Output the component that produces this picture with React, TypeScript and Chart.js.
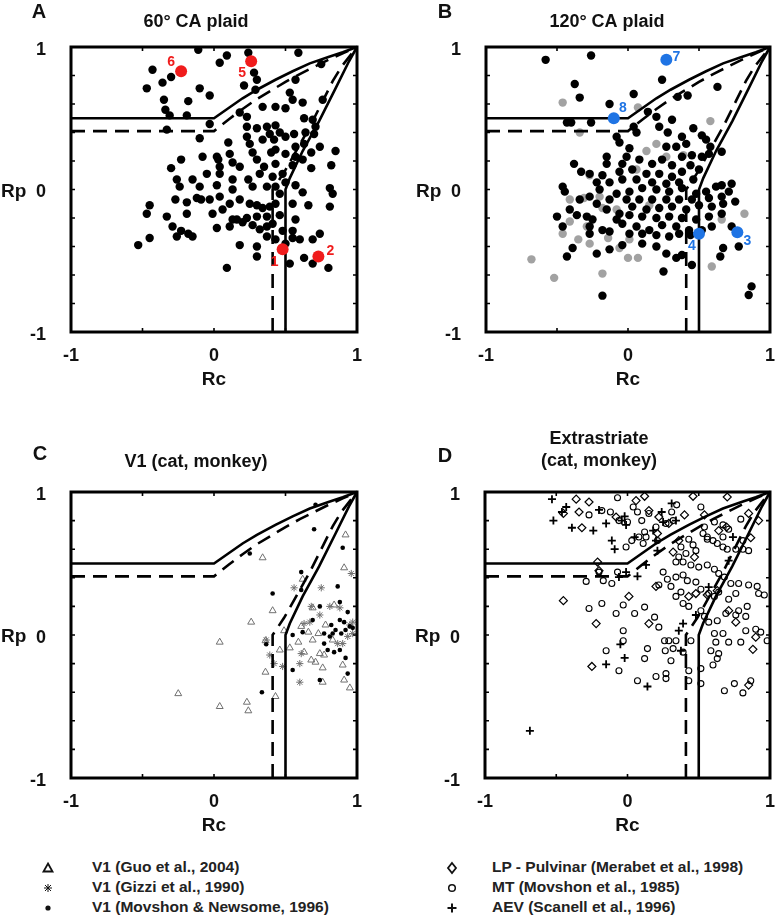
import React, { useEffect, useRef } from 'react';
import { Chart, registerables } from 'chart.js';
Chart.register(...registerables);

type P = [number, number];
const FONT = '"Liberation Sans", Arial, Helvetica, sans-serif';

// ---------- axes ----------
const axisTickValues = [-1, 0, 1];
const xMinorTicks = [-0.5, 0, 0.5];
const yMinorTicks = [-0.8, -0.6, -0.4, -0.2, 0, 0.2, 0.4, 0.6, 0.8];

// ---------- classification boundaries ----------
const upperSolid: P[] = [[-1, 0.5], [0, 0.5], [0.1, 0.57], [0.2, 0.64], [0.3, 0.7], [0.43, 0.77], [0.55, 0.83], [0.67, 0.885], [0.8, 0.93], [0.9, 0.963], [1, 1]];
const upperDashed: P[] = [[-1, 0.41], [0, 0.41], [0.1, 0.49], [0.2, 0.565], [0.3, 0.635], [0.4, 0.695], [0.5, 0.755], [0.6, 0.81], [0.7, 0.86], [0.8, 0.91], [0.9, 0.955], [1, 1]];
const rightSolid: P[] = [[0.5, -1], [0.5, 0], [0.53, 0.08], [0.62, 0.27], [0.735, 0.48], [0.85, 0.71], [0.944, 0.9], [1, 1]];
const rightDashed: P[] = [[0.41, -1], [0.41, 0], [0.49, 0.12], [0.6, 0.315], [0.67, 0.44], [0.76, 0.62], [0.83, 0.76], [0.89, 0.86], [1, 1]];

// ---------- panel A: 60° CA plaid ----------
const aCells: P[] = [[-0.11,0.98],[0.24,0.96],[0.59,0.96],[0.09,0.94],[0.04,0.89],[0.75,0.88],[-0.43,0.84],[-0.30,0.79],[-0.36,0.75],[-0.47,0.71],[0.21,0.73],[0.28,0.82],[0.30,0.77],[0.29,0.70],[0.57,0.77],[0.55,0.63],[-0.10,0.71],[-0.03,0.66],[0.53,0.68],[-0.35,0.63],[-0.18,0.62],[0.62,0.61],[0.76,0.63],[-0.34,0.56],[-0.31,0.52],[-0.19,0.52],[0.18,0.54],[0.23,0.51],[0.34,0.58],[0.43,0.58],[0.50,0.57],[0.63,0.50],[0.69,0.49],[-0.03,0.46],[-0.33,0.42],[-0.10,0.36],[0.23,0.44],[0.30,0.43],[0.37,0.44],[0.43,0.45],[0.39,0.39],[0.46,0.40],[0.50,0.37],[0.56,0.39],[0.64,0.40],[0.70,0.39],[0.71,0.44],[0.10,0.33],[0.23,0.37],[0.25,0.32],[0.34,0.35],[0.42,0.35],[0.43,0.28],[0.57,0.30],[0.63,0.32],[0.68,0.26],[0.62,0.21],[0.74,0.30],[0.85,0.27],[0.02,0.23],[0.11,0.25],[0.27,0.26],[0.40,0.26],[0.50,0.25],[-0.30,0.15],[-0.23,0.21],[-0.08,0.23],[0.03,0.21],[0.04,0.16],[0.13,0.19],[0.18,0.16],[0.30,0.21],[0.35,0.16],[0.43,0.18],[0.55,0.17],[0.68,0.15],[0.82,0.17],[0.57,0.23],[-0.26,0.07],[-0.15,0.07],[-0.05,0.11],[0.04,0.11],[0.13,0.07],[0.24,0.07],[0.32,0.11],[0.41,0.09],[0.48,0.11],[0.50,0.05],[0.57,0.03],[0.62,-0.02],[0.81,0.01],[0.83,-0.03],[-0.24,0.02],[-0.10,0.02],[0.02,0.03],[0.13,0.00],[0.27,0.02],[0.37,0.02],[0.43,0.02],[0.46,-0.03],[-0.27,-0.07],[-0.19,-0.09],[-0.12,-0.06],[-0.09,-0.07],[-0.03,-0.07],[0.04,-0.05],[0.11,-0.10],[0.18,-0.07],[0.25,-0.10],[0.30,-0.11],[0.34,-0.13],[0.39,-0.12],[0.43,-0.10],[0.55,-0.10],[0.66,-0.11],[0.81,-0.12],[-0.45,-0.11],[-0.47,-0.17],[-0.33,-0.19],[-0.19,-0.17],[-0.01,-0.17],[0.06,-0.14],[0.13,-0.21],[0.23,-0.20],[0.30,-0.19],[0.37,-0.19],[0.46,-0.18],[0.57,-0.21],[-0.29,-0.26],[-0.23,-0.29],[-0.18,-0.31],[-0.15,-0.33],[0.02,-0.27],[0.11,-0.26],[0.16,-0.21],[0.20,-0.23],[0.27,-0.25],[0.32,-0.28],[0.37,-0.26],[0.41,-0.24],[0.48,-0.29],[0.55,-0.29],[0.60,-0.35],[0.55,-0.34],[0.50,-0.38],[0.43,-0.35],[0.37,-0.33],[-0.26,-0.33],[-0.45,-0.34],[-0.53,-0.39],[0.18,-0.39],[0.30,-0.40],[0.69,-0.35],[0.74,-0.31],[0.30,-0.47],[0.53,-0.52],[0.63,-0.48],[0.69,-0.52],[0.80,-0.55],[0.09,-0.55]];
const aExamples: P[] = [[0.48, -0.42], [0.73, -0.47], [0.26, 0.90], [-0.23, 0.83]];
const aExampleLabels = ['1', '2', '5', '6'];

// ---------- panel B: 120° CA plaid ----------
const bCells: P[] = [[-0.58,0.91],[-0.26,0.94],[0.24,0.77],[-0.375,0.74],[-0.34,0.645],[-0.13,0.60],[0.04,0.67],[0.35,0.65],[0.42,0.66],[0.63,0.72],[0.14,0.545],[0.20,0.51],[0.31,0.49],[-0.43,0.47],[-0.40,0.47],[-0.26,0.47],[0.04,0.44],[0.22,0.44],[0.46,0.43],[0.06,0.40],[0.28,0.40],[-0.08,0.37],[0.38,0.37],[0.52,0.38],[-0.06,0.33],[0.55,0.35],[0.01,0.29],[0.27,0.30],[0.41,0.32],[0.34,0.30],[0.58,0.30],[0.66,0.265],[-0.15,0.23],[-0.01,0.23],[0.38,0.23],[0.45,0.24],[0.52,0.23],[0.57,0.25],[-0.38,0.18],[-0.33,0.125],[-0.27,0.11],[-0.15,0.18],[-0.04,0.18],[0.08,0.21],[0.17,0.18],[0.24,0.21],[0.31,0.17],[0.44,0.17],[0.50,0.14],[-0.18,0.10],[-0.06,0.125],[0.03,0.14],[0.13,0.11],[0.22,0.11],[0.31,0.09],[0.38,0.125],[0.46,0.07],[-0.22,0.05],[-0.13,0.05],[-0.04,0.07],[0.06,0.07],[0.17,0.05],[0.27,0.04],[0.36,0.05],[-0.46,0.02],[-0.445,-0.015],[-0.34,-0.07],[-0.27,-0.05],[-0.20,0.00],[-0.08,-0.03],[0.01,-0.015],[0.10,0.01],[0.20,0.00],[0.29,-0.015],[0.38,0.01],[0.48,-0.03],[0.55,-0.015],[0.62,0.02],[0.66,0.03],[0.73,0.04],[0.71,-0.015],[0.66,-0.05],[0.57,-0.06],[0.45,-0.07],[0.36,-0.07],[0.27,-0.07],[0.17,-0.07],[0.08,-0.07],[-0.01,-0.07],[-0.13,-0.07],[-0.22,-0.10],[-0.50,-0.19],[-0.41,-0.14],[-0.36,-0.18],[-0.29,-0.19],[-0.25,-0.21],[-0.15,-0.14],[-0.06,-0.17],[0.03,-0.12],[0.13,-0.14],[0.22,-0.13],[0.31,-0.12],[0.41,-0.14],[0.50,-0.11],[0.59,-0.12],[0.67,-0.10],[0.755,-0.085],[0.66,-0.17],[0.57,-0.19],[0.48,-0.21],[0.38,-0.20],[0.29,-0.19],[0.20,-0.20],[0.10,-0.19],[0.01,-0.18],[-0.08,-0.21],[-0.46,-0.26],[-0.27,-0.26],[-0.18,-0.285],[-0.04,-0.24],[0.06,-0.26],[0.15,-0.285],[0.24,-0.25],[0.34,-0.26],[0.43,-0.285],[0.52,-0.285],[0.59,-0.26],[0.73,-0.26],[-0.27,-0.31],[-0.13,-0.295],[0.01,-0.31],[0.10,-0.31],[0.20,-0.32],[0.29,-0.33],[0.36,-0.31],[0.44,-0.32],[0.78,-0.40],[0.67,-0.41],[-0.39,-0.41],[-0.43,-0.47],[-0.22,-0.45],[-0.13,-0.42],[-0.04,-0.39],[0.10,-0.38],[0.20,-0.40],[0.27,-0.45],[0.34,-0.48],[0.38,-0.46],[0.45,-0.53],[0.65,-0.47],[0.25,-0.575],[-0.18,-0.745],[0.87,-0.68],[0.85,-0.74]];
const bGrayCells: P[] = [[-0.46,0.61],[0.07,0.575],[0.58,0.48],[-0.34,0.40],[0.20,0.32],[0.13,0.27],[0.39,0.24],[-0.27,0.10],[0.06,0.14],[0.27,0.23],[-0.41,-0.07],[-0.31,-0.06],[-0.20,-0.05],[-0.18,-0.13],[-0.08,-0.14],[0.15,-0.11],[-0.29,-0.26],[-0.41,-0.225],[-0.46,-0.31],[-0.35,-0.35],[-0.27,-0.38],[-0.14,-0.34],[0.01,-0.35],[-0.06,-0.41],[0.00,-0.48],[0.07,-0.48],[-0.68,-0.49],[-0.52,-0.62],[-0.18,-0.59],[0.59,-0.54],[0.66,-0.21],[0.82,-0.17]];
const bExamples: P[] = [[0.77, -0.30], [0.50, -0.31], [0.27, 0.91], [-0.10, 0.50]];
const bExampleLabels = ['3', '4', '7', '8'];

// ---------- panel C: V1 (cat, monkey) ----------
const cGuo: P[] = [[-0.25,-0.41],[0.04,-0.05],[0.04,-0.50],[0.23,-0.47],[0.24,-0.53],[0.26,0.09],[0.34,0.54],[0.41,0.17],[0.36,-0.04],[0.36,-0.26],[0.43,-0.43],[0.46,-0.105],[0.49,0.03],[0.53,-0.09],[0.62,0.39],[0.61,0.06],[0.59,-0.05],[0.63,-0.12],[0.68,-0.175],[0.71,-0.19],[0.74,-0.13],[0.69,-0.035],[0.73,0.01],[0.77,-0.14],[0.76,-0.23],[0.69,0.19],[0.84,0.21],[0.92,0.70],[0.91,0.47],[0.90,-0.21],[0.91,-0.315],[0.95,-0.37],[0.78,0.07],[0.83,-0.035],[0.66,0.02],[0.76,-0.33]];
const cGizzi: P[] = [[0.56,0.33],[0.75,0.33],[0.365,-0.035],[0.39,-0.14],[0.42,-0.20],[0.60,-0.20],[0.61,-0.13],[0.63,0.08],[0.60,-0.33],[0.81,0.20],[0.88,0.19],[0.96,0.43],[0.865,-0.06],[0.90,-0.06],[0.935,-0.01],[0.95,0.07],[0.97,0.09],[0.68,0.20],[0.74,0.14],[0.67,0.09],[0.97,0.01],[0.48,-0.22]];
const cMovshon: P[] = [[0.71,0.91],[0.70,0.74],[0.25,0.57],[0.90,0.61],[0.61,0.44],[0.41,0.29],[0.61,0.315],[0.865,0.34],[0.74,0.20],[0.88,0.23],[0.935,0.16],[0.95,0.06],[0.92,0.035],[0.97,0.05],[0.82,0.07],[0.83,0.01],[0.85,0.035],[0.91,0.09],[0.88,0.105],[0.69,0.105],[0.55,0.00],[0.62,0.02],[0.77,-0.06],[0.795,-0.105],[0.84,-0.12],[0.88,-0.105],[0.92,-0.16],[0.935,-0.27],[0.55,-0.245],[0.74,-0.315],[0.335,-0.40],[0.365,-0.065],[0.89,0.01],[0.77,0.01],[0.81,-0.01]];

// ---------- panel D: Extrastriate (cat, monkey) ----------
const dMerabet: P[] = [[-0.36,0.95],[-0.27,0.93],[-0.34,0.86],[-0.32,0.75],[-0.45,0.85],[0.06,0.94],[0.12,0.97],[0.15,0.87],[0.22,0.825],[0.40,0.84],[0.46,0.97],[0.70,0.965],[0.85,0.85],[0.92,0.80],[0.865,0.68],[0.695,0.755],[0.64,0.73],[0.54,0.84],[0.29,0.78],[0.36,0.66],[-0.08,0.825],[-0.21,0.51],[-0.20,0.45],[0.21,0.71],[0.32,0.58],[0.47,0.545],[0.48,0.29],[0.56,0.28],[0.71,0.17],[0.76,0.09],[0.90,-0.015],[0.88,-0.10],[0.85,-0.35],[-0.25,-0.22],[-0.22,0.08],[-0.45,0.24],[0.01,0.27],[0.15,0.08],[0.43,0.27],[0.20,0.34],[0.63,0.31]];
const dMT: P[] = [[-0.07,0.96],[-0.12,0.86],[-0.06,0.80],[0.00,0.79],[0.10,0.80],[0.12,0.72],[0.13,0.685],[0.21,0.66],[0.27,0.78],[0.32,0.80],[0.31,0.86],[0.345,0.91],[0.515,0.895],[0.54,0.755],[0.61,0.79],[0.67,0.77],[0.71,0.74],[0.795,0.81],[0.53,0.71],[0.56,0.685],[0.60,0.66],[0.63,0.64],[0.67,0.615],[0.70,0.60],[0.76,0.60],[0.81,0.60],[0.46,0.63],[0.41,0.57],[0.36,0.545],[0.34,0.51],[0.39,0.51],[0.445,0.49],[0.50,0.475],[0.56,0.49],[0.61,0.46],[0.64,0.43],[0.68,0.405],[0.725,0.36],[0.78,0.36],[0.85,0.35],[0.91,0.34],[0.92,0.29],[0.96,0.28],[0.76,0.29],[0.71,0.25],[0.64,0.30],[0.61,0.27],[0.57,0.29],[0.515,0.32],[0.48,0.37],[0.42,0.38],[0.39,0.42],[0.34,0.405],[0.28,0.39],[0.25,0.44],[0.22,0.35],[0.305,0.34],[0.375,0.30],[0.34,0.27],[0.39,0.22],[0.43,0.20],[0.515,0.17],[0.54,0.13],[0.57,0.09],[0.63,0.10],[0.69,0.15],[0.76,0.14],[0.78,0.17],[0.83,0.13],[0.84,0.20],[0.90,0.04],[0.935,0.02],[0.98,-0.04],[0.83,0.03],[0.795,-0.05],[0.71,-0.05],[0.67,0.01],[0.61,0.01],[0.62,-0.05],[0.64,-0.13],[0.585,-0.11],[0.63,-0.165],[0.60,-0.21],[0.515,-0.235],[0.515,-0.34],[0.445,-0.04],[0.39,-0.12],[0.32,-0.095],[0.26,-0.04],[0.22,0.055],[0.19,0.125],[0.12,0.195],[0.05,0.15],[-0.03,0.21],[-0.08,0.15],[-0.18,0.22],[-0.27,0.185],[-0.03,0.03],[-0.03,-0.04],[-0.15,-0.11],[-0.06,-0.25],[0.07,-0.32],[0.12,-0.165],[0.14,-0.095],[0.20,-0.29],[0.27,-0.27],[0.27,-0.305],[0.305,-0.18],[0.265,-0.11],[0.29,-0.04],[0.34,-0.04],[0.43,-0.25],[0.43,-0.32],[0.75,-0.34],[0.81,-0.405],[0.68,-0.39],[0.865,-0.32],[-0.29,0.375],[-0.17,0.38],[-0.11,0.36],[-0.20,0.44],[-0.07,0.44],[-0.01,0.615],[0.03,0.66],[0.11,0.64],[0.08,0.685],[0.43,0.67],[0.375,0.615],[0.48,0.59],[0.56,0.67],[0.67,0.685],[0.20,0.755],[0.15,0.85],[0.04,0.895],[0.07,0.86],[-0.27,0.84],[-0.18,0.87],[0.81,0.66],[0.85,0.59]];
const dScanell: P[] = [[-0.53,0.95],[-0.52,0.80],[-0.46,0.86],[-0.43,0.895],[-0.39,0.75],[-0.24,0.73],[-0.20,0.875],[-0.15,0.78],[-0.11,0.66],[-0.09,0.60],[-0.02,0.83],[-0.01,0.77],[0.05,0.685],[0.18,0.73],[0.20,0.66],[0.24,0.86],[0.31,0.92],[0.25,0.79],[0.34,0.80],[0.13,0.49],[0.07,0.41],[-0.01,0.44],[-0.06,0.405],[0.21,0.59],[0.71,0.52],[0.74,0.685],[0.39,0.08],[0.36,0.03],[0.375,-0.11],[-0.05,-0.065],[-0.02,-0.16],[-0.15,-0.205],[0.14,-0.36],[-0.685,-0.67],[0.57,0.335],[0.48,0.14],[-0.04,0.80]];

// ---------- helpers ----------
const pts = (arr: P[]) => arr.map(([x, y]) => ({ x, y }));
const boundaryDatasets = () => [
  { data: pts(upperSolid), borderDash: [] as number[] },
  { data: pts(upperDashed), borderDash: [14, 8] },
  { data: pts(rightSolid), borderDash: [] as number[] },
  { data: pts(rightDashed), borderDash: [14, 8] },
].map((d) => ({
  data: d.data, showLine: true, borderColor: '#000', borderWidth: 2.6, borderDash: d.borderDash,
  pointRadius: 0, fill: false, tension: 0, clip: false,
}));
const dotSet = (arr: P[], color: string, r: number) => ({
  data: pts(arr), pointStyle: 'circle', pointRadius: r, backgroundColor: color, borderColor: color, borderWidth: 0, showLine: false,
});
const markerSet = (arr: P[], style: string, r: number, color: string, bw: number) => ({
  data: pts(arr), pointStyle: style, pointRadius: r, backgroundColor: 'rgba(0,0,0,0)', borderColor: color, borderWidth: bw, showLine: false,
});

interface Note { text: string; at: P; dx: number; dy: number; color: string }
interface PanelCfg {
  left: number; top: number; w: number; h: number;
  plotLeft: number; plotRight: number; plotTop: number; plotBottom: number;
  letter: string; letterX: number; letterY: number;
  title: string[]; titleX: number; titleY: number;
  datasets: any[]; notes: Note[];
}

const RED = '#f01c1c';
const BLUE = '#1f74e4';
const notesFrom = (arr: P[], labels: string[], offs: [number, number][], color: string): Note[] =>
  arr.map((p, i) => ({ text: labels[i], at: p, dx: offs[i][0], dy: offs[i][1], color }));

const panels: PanelCfg[] = [
  {
    left: 0, top: 0, w: 390, h: 400, plotLeft: 71, plotRight: 357, plotTop: 47, plotBottom: 332,
    letter: 'A', letterX: 39, letterY: 12, title: ['60° CA plaid'], titleX: 196, titleY: 22,
    datasets: [dotSet(aExamples, RED, 6), ...boundaryDatasets(), dotSet(aCells, '#000', 4.2)],
    notes: notesFrom(aExamples, aExampleLabels, [[-8, 13], [12, -5], [-9, 12], [-10, -9]], RED),
  },
  {
    left: 390, top: 0, w: 390, h: 400, plotLeft: 96, plotRight: 381, plotTop: 47, plotBottom: 332,
    letter: 'B', letterX: 55, letterY: 12, title: ['120° CA plaid'], titleX: 217, titleY: 22,
    datasets: [dotSet(bExamples, BLUE, 6), ...boundaryDatasets(), dotSet(bCells, '#000', 4.2), dotSet(bGrayCells, '#a2a2a2', 4.2)],
    notes: notesFrom(bExamples, bExampleLabels, [[10, 9], [-7, 12], [10, -3], [9, -10]], BLUE),
  },
  {
    left: 0, top: 430, w: 390, h: 420, plotLeft: 71, plotRight: 357, plotTop: 62, plotBottom: 348,
    letter: 'C', letterX: 40, letterY: 24, title: ['V1 (cat, monkey)'], titleX: 196, titleY: 32,
    datasets: [...boundaryDatasets(), dotSet(cMovshon, '#000', 2.3), markerSet(cGizzi, 'star', 3.6, '#707070', 1), markerSet(cGuo, 'triangle', 4, '#707070', 1)],
    notes: [],
  },
  {
    left: 390, top: 430, w: 390, h: 420, plotLeft: 95, plotRight: 381, plotTop: 62, plotBottom: 348,
    letter: 'D', letterX: 55, letterY: 26, title: ['Extrastriate', '(cat, monkey)'], titleX: 209, titleY: 9,
    datasets: [...boundaryDatasets(), markerSet(dScanell, 'cross', 4, '#000', 1.8), markerSet(dMerabet, 'rectRot', 4, '#000', 1.2), markerSet(dMT, 'circle', 3, '#000', 1.1)],
    notes: [],
  },
];

function buildConfig(cfg: PanelCfg): any {
  const deco = {
    id: 'deco',
    afterDatasetsDraw(chart: any) {
      const ctx = chart.ctx; const a = chart.chartArea;
      const xs = chart.scales.x; const ys = chart.scales.y;
      ctx.save();
      ctx.strokeStyle = '#000';
      ctx.lineWidth = 1.6;
      ctx.beginPath();
      for (const v of xMinorTicks) {
        const px = xs.getPixelForValue(v);
        ctx.moveTo(px, a.bottom); ctx.lineTo(px, a.bottom - 4);
        ctx.moveTo(px, a.top); ctx.lineTo(px, a.top + 4);
      }
      for (const v of yMinorTicks) {
        const py = ys.getPixelForValue(v);
        ctx.moveTo(a.left, py); ctx.lineTo(a.left + 4, py);
        ctx.moveTo(a.right, py); ctx.lineTo(a.right - 4, py);
      }
      ctx.stroke();
      ctx.lineWidth = 3;
      ctx.strokeRect(a.left, a.top, a.right - a.left, a.bottom - a.top);
      ctx.font = `bold 14px ${FONT}`;
      ctx.textAlign = 'center'; ctx.textBaseline = 'middle';
      for (const n of cfg.notes) {
        ctx.fillStyle = n.color;
        ctx.fillText(n.text, xs.getPixelForValue(n.at[0]) + n.dx, ys.getPixelForValue(n.at[1]) + n.dy);
      }
      ctx.restore();
    },
    afterDraw(chart: any) {
      const ctx = chart.ctx; const a = chart.chartArea;
      ctx.save();
      ctx.fillStyle = '#111';
      ctx.textBaseline = 'middle';
      ctx.textAlign = 'center';
      ctx.font = `bold 20px ${FONT}`;
      ctx.fillText(cfg.letter, cfg.letterX, cfg.letterY);
      ctx.font = `bold 18px ${FONT}`;
      cfg.title.forEach((t, i) => ctx.fillText(t, cfg.titleX, cfg.titleY + i * 22));
      ctx.font = `bold 19px ${FONT}`;
      ctx.fillText('Rc', (a.left + a.right) / 2, a.bottom + 48);
      ctx.textAlign = 'left';
      ctx.fillText('Rp', a.left - 70, (a.top + a.bottom) / 2 + 2);
      ctx.restore();
    },
  };
  const tickFont = { family: FONT, size: 18, weight: 'bold' as const };
  return {
    type: 'scatter',
    data: { datasets: cfg.datasets },
    options: {
      responsive: false, animation: false, devicePixelRatio: 1,
      layout: { padding: { left: 0, right: cfg.w - cfg.plotRight, top: cfg.plotTop, bottom: 0 } },
      plugins: { legend: { display: false }, tooltip: { enabled: false }, title: { display: false } },
      scales: {
        x: {
          type: 'linear', min: -1, max: 1,
          grid: { display: false }, border: { display: false },
          afterBuildTicks: (s: any) => { s.ticks = axisTickValues.map((v) => ({ value: v })); },
          afterFit: (s: any) => { s.height = cfg.h - cfg.plotBottom; },
          ticks: { color: '#111', font: tickFont, padding: 5, maxRotation: 0, autoSkip: false, callback: (v: any) => String(v) },
        },
        y: {
          type: 'linear', min: -1, max: 1,
          grid: { display: false }, border: { display: false },
          afterBuildTicks: (s: any) => { s.ticks = axisTickValues.map((v) => ({ value: v })); },
          afterFit: (s: any) => { s.width = cfg.plotLeft; },
          ticks: { color: '#111', font: tickFont, padding: 17, labelOffset: 3, autoSkip: false, callback: (v: any) => String(v) },
        },
      },
    },
    plugins: [deco],
  };
}

function Panel({ cfg }: { cfg: PanelCfg }) {
  const ref = useRef<HTMLCanvasElement>(null);
  useEffect(() => {
    const chart = new Chart(ref.current as HTMLCanvasElement, buildConfig(cfg));
    return () => chart.destroy();
  }, [cfg]);
  return (
    <canvas ref={ref} width={cfg.w} height={cfg.h}
      style={{ position: 'absolute', left: cfg.left, top: cfg.top, width: cfg.w, height: cfg.h }} />
  );
}

// ---------- legend ----------
const legendLeft = ['V1 (Guo et al., 2004)', 'V1 (Gizzi et al., 1990)', 'V1 (Movshon & Newsome, 1996)'];
const legendRight = ['LP - Pulvinar (Merabet et al., 1998)', 'MT (Movshon et al., 1985)', 'AEV (Scanell et al., 1996)'];
const legendRowY = [868, 888, 908];

function Marker({ kind }: { kind: string }) {
  const s = 14; const c = 7;
  let el: any = null;
  if (kind === 'triangle') el = <polygon points={`${c},${c - 4.5} ${c + 4.5},${c + 3.5} ${c - 4.5},${c + 3.5}`} fill="none" stroke="#111" strokeWidth={1.8} />;
  else if (kind === 'star') el = (
    <g stroke="#111" strokeWidth={1}>
      <line x1={c - 4} y1={c} x2={c + 4} y2={c} /><line x1={c} y1={c - 4} x2={c} y2={c + 4} />
      <line x1={c - 3} y1={c - 3} x2={c + 3} y2={c + 3} /><line x1={c - 3} y1={c + 3} x2={c + 3} y2={c - 3} />
    </g>
  );
  else if (kind === 'dot') el = <circle cx={c} cy={c} r={2.6} fill="#111" />;
  else if (kind === 'diamond') el = <polygon points={`${c},${c - 5} ${c + 4},${c} ${c},${c + 5} ${c - 4},${c}`} fill="none" stroke="#111" strokeWidth={1.8} />;
  else if (kind === 'circle') el = <circle cx={c} cy={c} r={3.3} fill="none" stroke="#111" strokeWidth={1.5} />;
  else el = (
    <g stroke="#111" strokeWidth={2}>
      <line x1={c - 4.5} y1={c} x2={c + 4.5} y2={c} /><line x1={c} y1={c - 4.5} x2={c} y2={c + 4.5} />
    </g>
  );
  return <svg width={s} height={s} style={{ display: 'block' }}>{el}</svg>;
}

function LegendColumn({ items, kinds, markerX, textX }: { items: string[]; kinds: string[]; markerX: number; textX: number }) {
  return (
    <>
      {items.map((t, i) => (
        <React.Fragment key={t}>
          <div style={{ position: 'absolute', left: markerX - 7, top: legendRowY[i] - 7 }}><Marker kind={kinds[i]} /></div>
          <div style={{ position: 'absolute', left: textX, top: legendRowY[i] - 10, height: 20, lineHeight: '20px', font: `bold 15.5px ${FONT}`, color: '#222', whiteSpace: 'nowrap' }}>{t}</div>
        </React.Fragment>
      ))}
    </>
  );
}

export default function App() {
  return (
    <div style={{ position: 'fixed', left: 0, top: 0, width: 775, height: 919, overflow: 'hidden', background: '#fff' }}>
      {panels.map((p) => <Panel key={p.letter} cfg={p} />)}
      <LegendColumn items={legendLeft} kinds={['triangle', 'star', 'dot']} markerX={48} textX={92} />
      <LegendColumn items={legendRight} kinds={['diamond', 'circle', 'plus']} markerX={452} textX={492} />
    </div>
  );
}
